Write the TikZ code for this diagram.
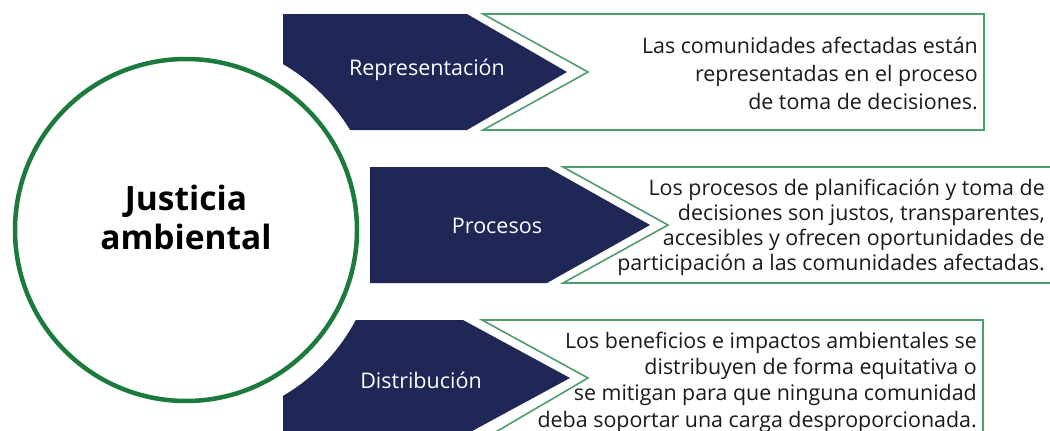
\documentclass[tikz,border=0pt]{standalone}
\usepackage{fontspec}
\setmainfont{Open Sans}
\definecolor{navy}{HTML}{1F2756}
\definecolor{ringgreen}{HTML}{1B7A3C}
\definecolor{boxgreen}{HTML}{4E9E6C}
\definecolor{txt}{HTML}{1A1A1A}
\begin{document}
\begin{tikzpicture}[x=1pt,y=-1pt,
  chev/.style={fill=navy,draw=none},
  tbox/.style={draw=boxgreen,line width=1.6pt,fill=white,line join=miter},
  lab/.style={text=white,font=\fontsize{21.5}{24}\selectfont,inner sep=0pt},
  desc/.style={text=txt,align=right,anchor=east,inner sep=0pt},
  ring/.style={circle,draw=ringgreen,line width=4.5pt,fill=white,minimum size=342pt,inner sep=0pt},
  title/.style={font=\fontsize{33.5}{39}\selectfont\bfseries,align=center,inner sep=0pt,text=black}]
\useasboundingbox (0,0) rectangle (1050,431);
% top and bottom chevrons
\fill[navy] (283,14) -- (467,14) -- (567,72) -- (467,130) -- (283,130) -- cycle;
\fill[navy] (283,320) -- (463,320) -- (570,378) -- (463,436) -- (283,436) -- cycle;
% white gap around the circle
\fill[white] (186,230) circle[radius=192];
% middle chevron
\fill[navy] (370,167) -- (547,167) -- (650,225) -- (547,283) -- (370,283) -- cycle;
% outlined text boxes
\draw[tbox] (483,14) -- (984,14) -- (984,130) -- (483,130) -- (588,72) -- cycle;
\draw[tbox] (1060,167) -- (563,167) -- (668,225) -- (563,283) -- (1060,283);
\draw[tbox] (983,440) -- (983,320) -- (482,320) -- (588,378) -- (482,440);
% circle
\node[ring] (jus) at (186,230) {};
\node[title] (jt) at (186,217) {Justicia\\ambiental};
% labels
\node[lab] (rep) at (427,70) {Representación};
\node[lab] (pro) at (497,226) {Procesos};
\node[lab] (dis) at (421,380) {Distribución};
% descriptions
\node[desc,font=\fontsize{21.4}{28}\selectfont] (d1) at (978,73) {Las comunidades afectadas están\\representadas en el proceso\\de toma de decisiones.};
\node[desc,font=\fontsize{21.4}{25}\selectfont] (d2) at (1045,227) {Los procesos de planificación y toma de\\decisiones son justos, transparentes,\\accesibles y ofrecen oportunidades de\\participación a las comunidades afectadas.};
\node[desc,font=\fontsize{21.4}{26.3}\selectfont] (d3) at (977,382) {Los beneficios e impactos ambientales se\\distribuyen de forma equitativa o\\se mitigan para que ninguna comunidad\\deba soportar una carga desproporcionada.};
\end{tikzpicture}
\end{document}
